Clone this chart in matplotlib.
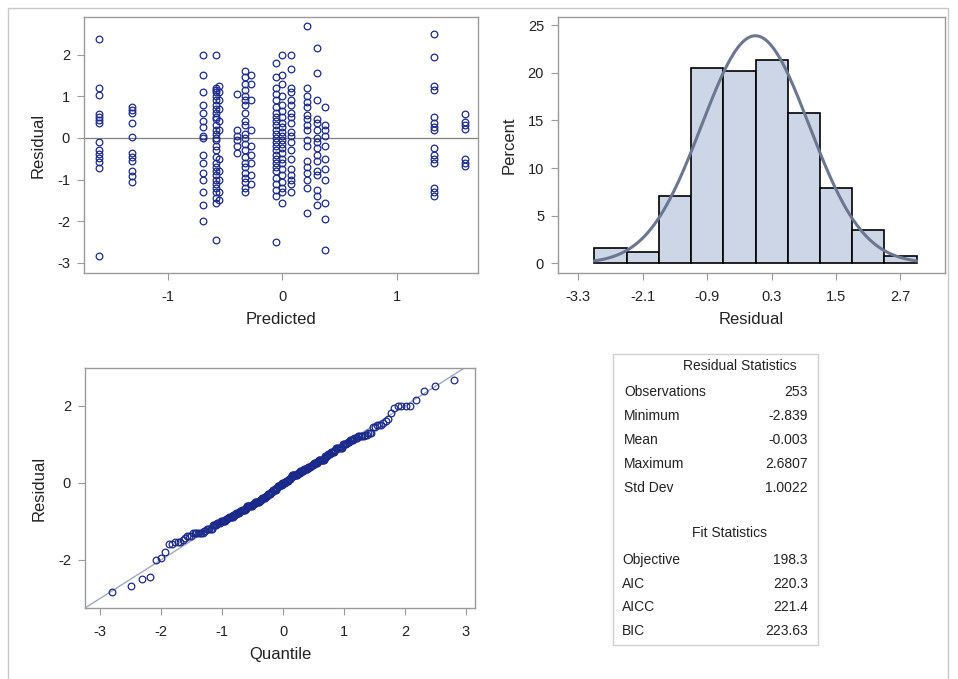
import numpy as np
import matplotlib
matplotlib.use('Agg')
import matplotlib.pyplot as plt
from matplotlib.patches import Rectangle
from statistics import NormalDist

plt.rcParams['font.family'] = ['Liberation Sans', 'DejaVu Sans']
plt.rcParams['axes.unicode_minus'] = False

# residuals grouped by predicted value
pred_values = [-1.60, -1.31, -0.69, -0.58, -0.55, -0.39, -0.32, -0.27,
               -0.05, 0.00, 0.08, 0.22, 0.30, 0.37, 1.33, 1.60]
resid_groups = [
    [2.38, 1.2, 1.02, 0.58, 0.5, 0.42, 0.35, -0.1, -0.3, -0.38, -0.48, -0.58, -0.72, -2.839],
    [0.75, 0.68, 0.6, 0.35, 0.02, -0.35, -0.45, -0.55, -0.8, -0.92, -1.05],
    [2.0, 1.5, 1.1, 0.8, 0.6, 0.4, 0.25, 0.05, 0.0, -0.4, -0.6, -0.85, -1.0, -1.3, -1.6, -2.0],
    [2.0, 1.2, 1.15, 1.1, 1.0, 0.9, 0.8, 0.7, 0.6, 0.5, 0.45, 0.3, 0.2, 0.1, 0.0,
     -0.05, -0.2, -0.3, -0.45, -0.6, -0.7, -0.8, -0.9, -1.0, -1.1, -1.2, -1.3, -1.45, -1.55, -2.45],
    [1.25, 1.1, 0.9, 0.7, 0.4, 0.2, -0.5, -0.8, -1.0, -1.3, -1.5],
    [1.05, 0.2, 0.05, -0.05, -0.2, -0.35],
    [1.6, 1.45, 1.3, 1.15, 1.0, 0.9, 0.8, 0.6, 0.4, 0.3, 0.1, 0.0, -0.15, -0.3,
     -0.45, -0.6, -0.7, -0.85, -0.95, -1.05, -1.2, -1.3],
    [1.5, 1.3, 0.9, 0.2, -0.2, -0.4, -0.6, -0.9, -1.1],
    [1.8, 1.45, 1.2, 1.05, 0.9, 0.75, 0.6, 0.5, 0.4, 0.3, 0.2, 0.1, 0.0, -0.1, -0.2,
     -0.3, -0.4, -0.5, -0.6, -0.7, -0.8, -0.95, -1.1, -1.25, -1.4, -2.5],
    [2.0, 1.5, 1.3, 1.0, 0.8, 0.65, 0.5, 0.35, 0.25, 0.15, 0.05, -0.05, -0.15, -0.25,
     -0.35, -0.5, -0.6, -0.75, -0.9, -1.05, -1.2, -1.3, -1.55],
    [2.0, 1.65, 1.2, 1.1, 0.9, 0.8, 0.6, 0.5, 0.35, 0.15, 0.05, -0.1, -0.3, -0.5,
     -0.75, -0.9, -1.0, -1.1, -1.3],
    [2.6807, 1.2, 1.0, 0.85, 0.75, 0.55, 0.45, 0.3, 0.2, -0.05, -0.2, -0.55, -0.7,
     -0.85, -1.0, -1.2, -1.8],
    [2.15, 1.55, 0.9, 0.45, 0.35, 0.2, 0.0, -0.1, -0.25, -0.4, -0.55, -0.8, -0.9,
     -1.25, -1.4, -1.6],
    [0.75, 0.3, 0.2, 0.05, -0.2, -0.5, -0.75, -1.0, -1.55, -1.95, -2.7],
    [2.5, 1.95, 1.25, 1.15, 0.5, 0.35, 0.25, 0.2, -0.25, -0.4, -0.5, -0.6, -1.2,
     -1.3, -1.4],
    [0.58, 0.38, 0.3, 0.22, -0.5, -0.6, -0.68],
]

# histogram (percent per bin, bins of width 0.6)
bin_mids = [-2.7, -2.1, -1.5, -0.9, -0.3, 0.3, 0.9, 1.5, 2.1, 2.7]
bin_pct = [1.58, 1.19, 7.11, 20.55, 20.16, 21.34, 15.81, 7.91, 3.56, 0.79]
hist_ticks = [-3.3, -2.1, -0.9, 0.3, 1.5, 2.7]

# statistics table
res_labels = ['Observations', 'Minimum', 'Mean', 'Maximum', 'Std Dev']
res_values = ['253', '-2.839', '-0.003', '2.6807', '1.0022']
fit_labels = ['Objective', 'AIC', 'AICC', 'BIC']
fit_values = ['198.3', '220.3', '221.4', '223.63']
mean_r = -0.003
std_r = 1.0022

W, H = 958, 679
fig = plt.figure(figsize=(W / 100, H / 100), dpi=100)

mark_col = '#1b2a8a'
spine_col = '#9a9a9a'
txt_col = '#222222'


def px_axes(l, t, r, b):
    return fig.add_axes([l / W, 1 - b / H, (r - l) / W, (b - t) / H])


def style(ax, xlab, ylab):
    for s in ax.spines.values():
        s.set_color(spine_col)
        s.set_linewidth(1.0)
    ax.tick_params(colors=spine_col, labelcolor=txt_col, labelsize=10.5, length=5)
    ax.tick_params(axis='x', pad=7)
    ax.tick_params(axis='y', pad=5)
    ax.set_xlabel(xlab, fontsize=12, color=txt_col, labelpad=6)
    ax.set_ylabel(ylab, fontsize=12, color=txt_col, labelpad=8)


# outer frame
fig.patches.append(Rectangle((8 / W, -0.01), 940 / W, 1 - 8 / H + 0.01,
                             transform=fig.transFigure, fill=False,
                             edgecolor='#c8c8c8', linewidth=1.0))

# residual vs predicted
ax1 = px_axes(84, 17, 478, 273)
xs = np.concatenate([[p] * len(g) for p, g in zip(pred_values, resid_groups)])
ys = np.concatenate(resid_groups)
ax1.axhline(0, color='#808080', linewidth=0.9, zorder=1)
ax1.plot(xs, ys, 'o', markersize=4.8, markerfacecolor='none',
         markeredgecolor=mark_col, markeredgewidth=0.9, zorder=2)
ax1.set_xlim(-1.73, 1.71)
ax1.set_ylim(-3.24, 2.9)
ax1.set_xticks([-1, 0, 1])
ax1.set_yticks([-3, -2, -1, 0, 1, 2])
style(ax1, 'Predicted', 'Residual')

# histogram
ax2 = px_axes(558, 17, 945, 273)
ax2.bar(bin_mids, bin_pct, width=0.6, color='#cdd6e6', edgecolor='black',
        linewidth=1.2, zorder=2)
xx = np.linspace(-3.0, 3.0, 300)
dens = [NormalDist(mean_r, std_r).pdf(v) * 0.6 * 100 for v in xx]
ax2.plot(xx, dens, color='#6b7690', linewidth=2.2, zorder=3)
ax2.set_xlim(-3.68, 3.53)
ax2.set_ylim(-1.0, 25.85)
ax2.set_xticks(hist_ticks)
ax2.set_xticklabels([f'{t:.1f}' for t in hist_ticks])
ax2.set_yticks([0, 5, 10, 15, 20, 25])
style(ax2, 'Residual', 'Percent')

# QQ plot
ax3 = px_axes(85, 368, 475, 608)
sorted_r = np.sort(ys)
n = len(sorted_r)
quant = [NormalDist().inv_cdf((i + 1 - 0.375) / (n + 0.25)) for i in range(n)]
ax3.axline((0, mean_r), slope=std_r, color='#a0a8c0', linewidth=1.0, zorder=1)
ax3.plot(quant, sorted_r, 'o', markersize=4.8, markerfacecolor='none',
         markeredgecolor=mark_col, markeredgewidth=0.9, zorder=2)
ax3.set_xlim(-3.25, 3.15)
ax3.set_ylim(-3.26, 2.98)
ax3.set_xticks([-3, -2, -1, 0, 1, 2, 3])
ax3.set_yticks([-2, 0, 2])
style(ax3, 'Quantile', 'Residual')

# statistics table
fig.patches.append(Rectangle((613 / W, 1 - 645 / H), 205 / W, 291 / H,
                             transform=fig.transFigure, fill=False,
                             edgecolor='#d0d0d0', linewidth=1.0))


def ftxt(x, y, s, ha='left'):
    fig.text(x / W, 1 - y / H, s, ha=ha, va='center', fontsize=10, color=txt_col)


ftxt(740, 366, 'Residual Statistics', ha='center')
for i, (lab, val) in enumerate(zip(res_labels, res_values)):
    ftxt(624, 392 + i * 24, lab)
    ftxt(808, 392 + i * 24, val, ha='right')
ftxt(729, 533, 'Fit Statistics', ha='center')
for i, (lab, val) in enumerate(zip(fit_labels, fit_values)):
    ftxt(622, 560 + i * 23.7, lab)
    ftxt(808, 560 + i * 23.7, val, ha='right')

fig.savefig('out.png', dpi=100)
